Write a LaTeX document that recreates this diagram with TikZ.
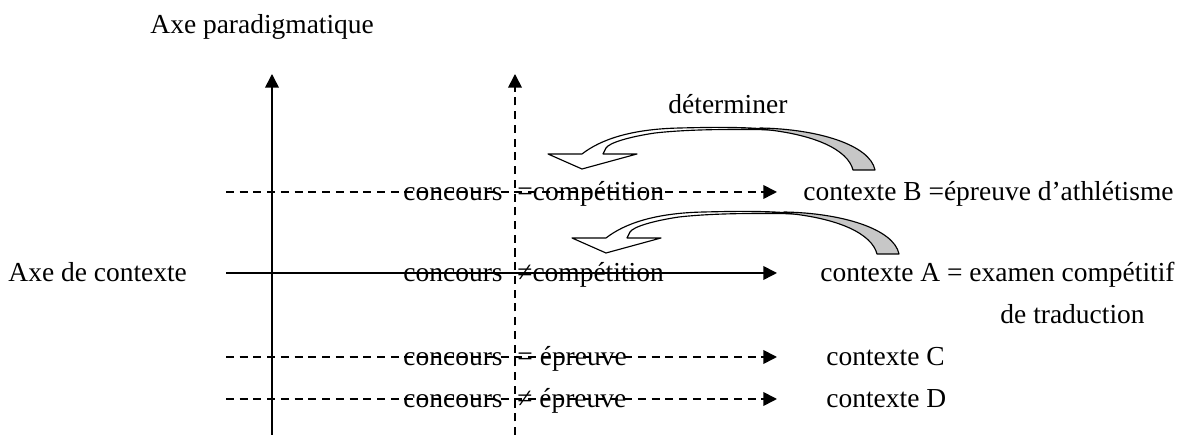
\documentclass[tikz,border=0pt]{standalone}
\usepackage{fontspec}
\setmainfont{Liberation Serif}
\usetikzlibrary{arrows.meta}

\newcommand*{\xleft}{226}
\newcommand*{\xtip}{777}
\newcommand*{\ybot}{435}
\newcommand*{\ytop}{74}

\tikzset{
	lbl/.style={inner sep=0pt, anchor=mid west, font=\fontsize{12}{14}\selectfont},
	axarrow/.style={-{Triangle[length=6pt,width=6pt]}},
	solidline/.style={axarrow, line width=0.7pt},
	dashline/.style={axarrow, line width=0.7pt, dash pattern=on 3.5pt off 2.5pt},
	bandfront/.style={fill=white, line width=0.5pt, line join=round},
	bandback/.style={fill=black!22, line width=0.5pt, line join=round}
}

\begin{document}
\begin{tikzpicture}[x=0.437pt,y=-0.437pt]

	\useasboundingbox (0,0) rectangle (1187,435);

	% axes
	\coordinate (pbot) at (272,\ybot);
	\coordinate (ptop) at (272,\ytop);
	\coordinate (qbot) at (515,\ybot);
	\coordinate (qtop) at (515,\ytop);
	\draw[solidline] (pbot) -- (ptop);
	\draw[dashline] (qbot) -- (qtop);
	\node[lbl] (paradigm) at (150,28) {Axe paradigmatique};

	% rows
	\coordinate (bstart) at (\xleft,192);
	\coordinate (bend) at (\xtip,192);
	\coordinate (astart) at (\xleft,273);
	\coordinate (aend) at (\xtip,273);
	\coordinate (cstart) at (\xleft,357);
	\coordinate (cend) at (\xtip,357);
	\coordinate (dstart) at (\xleft,399);
	\coordinate (dend) at (\xtip,399);

	\draw[dashline] (bstart) -- (bend);
	\draw[solidline] (astart) -- (aend);
	\draw[dashline] (cstart) -- (cend);
	\draw[dashline] (dstart) -- (dend);

	\node[lbl] (contexte) at (8,276) {Axe de contexte};

	\node[lbl] (concB) at (403,195) {concours};
	\node[lbl] (compB) at (517,195) {=compétition};
	\node[lbl] (ctxB) at (803,195) {contexte B =épreuve d’athlétisme};

	\node[lbl] (concA) at (403,276) {concours};
	\node[lbl] (compA) at (517,276) {≠compétition};
	\node[lbl] (ctxA) at (820,276) {contexte A = examen compétitif};
	\node[lbl] (ctxAbis) at (1000,318) {de traduction};

	\node[lbl] (concC) at (403,360) {concours};
	\node[lbl] (epC) at (517,360) {= épreuve};
	\node[lbl] (ctxC) at (826,360) {contexte C};

	\node[lbl] (concD) at (403,402) {concours};
	\node[lbl] (epD) at (517,402) {≠ épreuve};
	\node[lbl] (ctxD) at (826,402) {contexte D};

	% curved arrows
	\node[lbl] (determ) at (668,108) {déterminer};
	\foreach \dx/\dy in {0/0, 24/84} {
		\begin{scope}[shift={(\dx,\dy)}]
			\draw[bandfront] (603,154) -- (637,154) -- (582,169) -- (548,154) -- (582,154)
				.. controls (600,140) and (630,129) .. (680,128)
				.. controls (720,127) and (750,127) .. (775,130)
				.. controls (740,129) and (690,129) .. (655,133)
				.. controls (628,137) and (609,143) .. (606,148) -- cycle;
			\draw[bandback] (760,128) .. controls (818,129) and (870,145) .. (875,170)
				-- (853,170) .. controls (848,150) and (815,134) .. (760,129) -- cycle;
		\end{scope}
	}

\end{tikzpicture}
\end{document}
